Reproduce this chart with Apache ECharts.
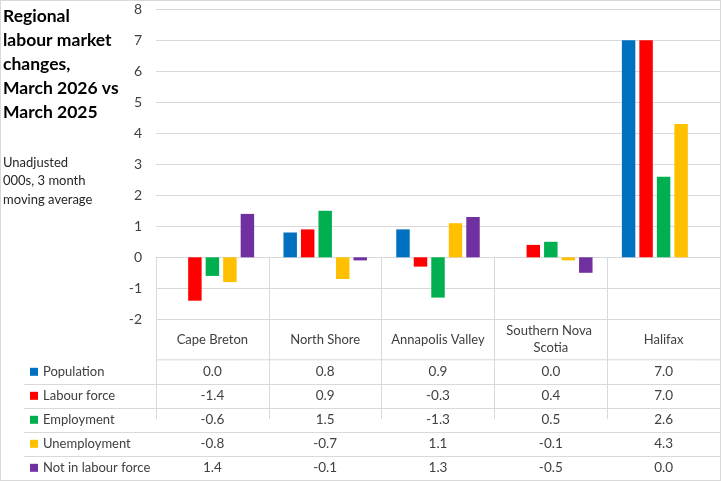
<!DOCTYPE html>
<html>
<head>
<meta charset="utf-8">
<script src="https://cdn.jsdelivr.net/npm/echarts@6/dist/echarts.min.js"></script>
<style>
  html, body { margin: 0; padding: 0; background: #fff; }
  #wrap { position: relative; width: 721px; height: 481px; }
  #chart { position: absolute; left: 0; top: 0; width: 721px; height: 481px; }
  #frame { position: absolute; left: 0; top: 0; width: 721px; height: 481px; box-sizing: border-box; border: 1px solid #d9d9d9; pointer-events: none; z-index: 5; }
</style>
</head>
<body>
<div id="wrap"><div id="chart"></div><div id="frame"></div></div>
<script>
const categories = ['Cape Breton', 'North Shore', 'Annapolis Valley', 'Southern Nova Scotia', 'Halifax'];
const seriesNames = ['Population', 'Labour force', 'Employment', 'Unemployment', 'Not in labour force'];
const population = [0.0, 0.8, 0.9, 0.0, 7.0];
const labourForce = [-1.4, 0.9, -0.3, 0.4, 7.0];
const employment = [-0.6, 1.5, -1.3, 0.5, 2.6];
const unemployment = [-0.8, -0.7, 1.1, -0.1, 4.3];
const notInLabourForce = [1.4, -0.1, 1.3, -0.5, 0.0];
const colors = ['#0070C0', '#FF0000', '#00B050', '#FFC000', '#7030A0'];
const yTicks = { min: -2, max: 8, interval: 1 };

const allValues = [population, labourForce, employment, unemployment, notInLabourForce];
const FONT = 'Lato, "Noto Sans", sans-serif';
const chart = echarts.init(document.getElementById('chart'), null, { renderer: 'canvas' });

const gridLeft = 156, gridRight = 1, gridTop = 9.3, axisY = 319.3;
const headerH = 40.5, rowH = 24;

const xAxes = [{
  type: 'category',
  data: categories,
  position: 'bottom',
  axisLine: { show: true, lineStyle: { color: '#d9d9d9', width: 1 } },
  axisTick: { show: true, alignWithLabel: false, length: 481 - axisY, lineStyle: { color: '#d9d9d9', width: 1 } },
  axisLabel: { interval: 0, margin: headerH / 2, verticalAlign: 'middle', color: '#404040', fontSize: 13, fontFamily: FONT, width: 108, overflow: 'break', lineHeight: 17 },
  splitLine: { show: false }
}];
allValues.forEach((vals, i) => {
  xAxes.push({
    type: 'category',
    data: categories,
    position: 'bottom',
    axisLine: { show: false },
    axisTick: { show: false },
    splitLine: { show: false },
    axisLabel: {
      interval: 0,
      margin: headerH + rowH * i + rowH / 2,
      verticalAlign: 'middle',
      color: '#404040', fontSize: 13.5, fontFamily: FONT,
      formatter: (v, idx) => vals[idx].toFixed(1)
    }
  });
});

const tableLines = [];
tableLines.push({ type: 'line', shape: { x1: gridLeft, y1: axisY + headerH, x2: 720, y2: axisY + headerH }, style: { stroke: '#d9d9d9', lineWidth: 1 }, silent: true });
for (let i = 1; i < allValues.length; i++) {
  const y = Math.round(axisY + headerH + rowH * i) + 0.5;
  tableLines.push({ type: 'line', shape: { x1: 24, y1: y, x2: 720, y2: y }, style: { stroke: '#d9d9d9', lineWidth: 1 }, silent: true });
}

chart.setOption({
  animation: false,
  backgroundColor: '#fff',
  color: colors,
  title: [
    { text: 'Regional\nlabour market\nchanges,\nMarch 2026 vs\nMarch 2025', left: 3, top: 4, padding: 0,
      textStyle: { fontFamily: FONT, fontWeight: 'bold', fontSize: 17.5, lineHeight: 24, color: '#000' } },
    { text: 'Unadjusted\n000s, 3 month\nmoving average', left: 3, top: 153, padding: 0,
      textStyle: { fontFamily: FONT, fontWeight: 'normal', fontSize: 13, lineHeight: 18.7, color: '#262626' } }
  ],
  legend: {
    data: seriesNames,
    orient: 'vertical',
    left: 30,
    top: axisY + headerH + rowH / 2 - 8,
    padding: 0,
    itemWidth: 8,
    itemHeight: 8,
    itemGap: 8,
    icon: 'rect',
    selectedMode: false,
    textStyle: { fontFamily: FONT, fontSize: 13, color: '#404040', lineHeight: 16 }
  },
  grid: { left: gridLeft, right: gridRight, top: gridTop, bottom: 481 - axisY, containLabel: false },
  xAxis: xAxes,
  yAxis: {
    type: 'value',
    min: yTicks.min, max: yTicks.max, interval: yTicks.interval,
    axisLine: { show: false },
    axisTick: { show: false },
    splitLine: { show: true, lineStyle: { color: '#d9d9d9', width: 1 } },
    axisLabel: { margin: 14, color: '#404040', fontSize: 14, fontFamily: FONT }
  },
  graphic: tableLines,
  series: allValues.map((vals, i) => ({
    name: seriesNames[i],
    type: 'bar',
    data: vals,
    barGap: '30%',
    barCategoryGap: '26%',
    itemStyle: { color: colors[i] }
  }))
});
</script>
</body>
</html>
